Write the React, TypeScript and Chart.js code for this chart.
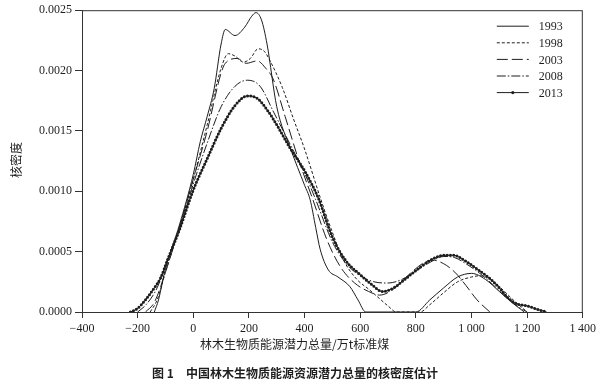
import React, { useEffect, useRef } from 'react';
import { Chart, registerables } from 'chart.js';

Chart.register(...registerables);

const years = ['1993', '1998', '2003', '2008', '2013'];

const x1993 = [-140, -125, -100, -50, 0, 25, 50, 75, 100, 115, 150, 185, 210, 225, 245, 265, 300, 350, 400, 420, 440, 456, 485, 520, 563, 592, 620, 700, 800, 850, 900, 950, 1000, 1050, 1100, 1150, 1190];
const y1993 = [0, 0.0001, 0.00036, 0.00072, 0.00114, 0.00141, 0.00162, 0.00185, 0.00222, 0.00234, 0.00229, 0.00236, 0.00245, 0.00248, 0.00242, 0.00222, 0.0017, 0.00135, 0.00105, 0.00093, 0.0007, 0.00052, 0.00035, 0.00029, 0.00021, 0.0001, 0, 0, 0, 0.0001, 0.0002, 0.00029, 0.00032, 0.00027, 0.00017, 0.00007, 0];

const x1998 = [-155, -130, -100, -50, 0, 50, 100, 126, 150, 180, 205, 233, 255, 276, 320, 360, 400, 456, 492, 540, 588, 630, 660, 700, 730, 815, 850, 900, 950, 1000, 1030, 1060, 1100, 1150, 1200];
const y1998 = [0, 0.0001, 0.00033, 0.0007, 0.0011, 0.00155, 0.00202, 0.00214, 0.00212, 0.00207, 0.0021, 0.00218, 0.00216, 0.00208, 0.00186, 0.0016, 0.00135, 0.00095, 0.00071, 0.00043, 0.00027, 0.00019, 0.00013, 0.00005, 0, 0, 0.00006, 0.00016, 0.00025, 0.00029, 0.0003, 0.00028, 0.00021, 0.0001, 0];

const x2003 = [-172, -140, -100, -50, 0, 50, 100, 115, 158, 190, 230, 260, 287, 330, 380, 430, 480, 530, 580, 630, 670, 720, 780, 830, 860, 900, 940, 980, 1020, 1066];
const y2003 = [0, 0.00008, 0.00033, 0.0007, 0.0011, 0.0015, 0.00198, 0.00206, 0.0021, 0.00206, 0.00208, 0.00202, 0.00193, 0.00162, 0.00125, 0.00093, 0.0006, 0.00037, 0.00024, 0.00017, 0.00014, 0.00019, 0.00032, 0.00041, 0.00043, 0.0004, 0.00033, 0.00022, 0.0001, 0];

const x2008 = [-200, -170, -130, -93, -50, 0, 50, 100, 150, 194, 240, 290, 350, 400, 440, 500, 550, 600, 650, 700, 750, 800, 850, 900, 940, 980, 1030, 1080, 1130, 1170, 1200];
const y2008 = [0, 0.00006, 0.0002, 0.00043, 0.00068, 0.00106, 0.0014, 0.0017, 0.00187, 0.00192, 0.00187, 0.00165, 0.00138, 0.00115, 0.00093, 0.00058, 0.0004, 0.0003, 0.00025, 0.00024, 0.00027, 0.00034, 0.00041, 0.00046, 0.00045, 0.0004, 0.00032, 0.00022, 0.00011, 0.00004, 0];

const x2013 = [-226, -200, -172, -140, -118, -93, -50, 0, 50, 100, 150, 194, 230, 270, 300, 350, 400, 450, 500, 550, 600, 640, 680, 720, 760, 815, 860, 900, 935, 980, 1030, 1070, 1100, 1130, 1160, 1200, 1240, 1270];
const y2013 = [0, 0.00003, 0.0001, 0.0002, 0.00028, 0.00043, 0.00068, 0.00101, 0.00127, 0.00152, 0.00171, 0.00179, 0.00177, 0.00166, 0.00155, 0.00135, 0.00117, 0.00094, 0.00062, 0.00042, 0.00031, 0.00023, 0.00017, 0.0002, 0.00027, 0.00037, 0.00044, 0.00047, 0.00047, 0.00042, 0.00034, 0.00027, 0.0002, 0.00012, 0.00007, 0.00005, 0.00002, 0];

const xTicks = [-400, -200, 0, 200, 400, 600, 800, 1000, 1200, 1400];
const xTickLabels = ['\u2212400', '\u2212200', '0', '200', '400', '600', '800', '1\u2009000', '1\u2009200', '1\u2009400'];
const yTicks = [0, 0.0005, 0.001, 0.0015, 0.002, 0.0025];
const yTickLabels = ['0.0000', '0.0005', '0.0010', '0.0015', '0.0020', '0.0025'];

const xTitle = '林木生物质能源潜力总量/万t标准煤';
const yTitle = '核密度';
const captionNo = '图 1';
const captionText = '中国林木生物质能源资源潜力总量的核密度估计';

const INK = '#1e1e1e';
const SERIF = '"Liberation Serif", "DejaVu Serif", serif';
const CJK = '"Noto Sans CJK SC", "Noto Sans", sans-serif';

const dashes: number[][] = [[], [3, 2], [11, 4], [9, 2, 1.5, 2], []];

const pts = (xs: number[], ys: number[]) => xs.map((x, i) => ({ x, y: ys[i] }));

const overlayPlugin = {
  id: 'overlay',
  afterDraw(chart: any) {
    const { ctx, chartArea } = chart;
    const { left, right, top, bottom } = chartArea;
    ctx.save();
    // frame
    ctx.strokeStyle = '#333';
    ctx.lineWidth = 1;
    ctx.setLineDash([]);
    ctx.strokeRect(left + 0.5, top + 0.5, right - left - 1, bottom - top);
    // legend
    ctx.font = `12px ${SERIF}`;
    ctx.fillStyle = INK;
    ctx.textBaseline = 'middle';
    ctx.textAlign = 'left';
    years.forEach((yr, i) => {
      const yy = top + 16 + i * 16.6;
      const x0 = right - 86;
      const x1 = right - 54;
      ctx.beginPath();
      ctx.setLineDash(dashes[i]);
      ctx.lineWidth = 1;
      ctx.strokeStyle = INK;
      ctx.moveTo(x0, yy);
      ctx.lineTo(x1, yy);
      ctx.stroke();
      ctx.setLineDash([]);
      if (i === 4) {
        ctx.beginPath();
        ctx.arc((x0 + x1) / 2, yy, 1.6, 0, Math.PI * 2);
        ctx.fill();
      }
      ctx.fillText(yr, right - 44, yy + 1);
    });
    // y title
    ctx.save();
    ctx.translate(16, 160);
    ctx.rotate(-Math.PI / 2);
    ctx.font = `12px ${CJK}`;
    ctx.textAlign = 'center';
    ctx.textBaseline = 'middle';
    ctx.fillText(yTitle, 0, 0);
    ctx.restore();
    // x title
    ctx.font = `12px ${CJK}`;
    ctx.textAlign = 'left';
    ctx.textBaseline = 'middle';
    ctx.fillText(xTitle, 200, bottom + 32);
    // caption
    ctx.font = `bold 12px ${CJK}`;
    ctx.fillText(captionNo, 152, bottom + 61);
    ctx.fillText(captionText, 186, bottom + 61);
    ctx.restore();
  },
};

export default function App() {
  const ref = useRef<HTMLCanvasElement | null>(null);

  useEffect(() => {
    if (!ref.current) return;
    const common = {
      borderColor: INK,
      backgroundColor: INK,
      borderWidth: 1,
      pointRadius: 0,
      fill: false,
      cubicInterpolationMode: 'monotone' as const,
    };
    const chart = new Chart(ref.current, {
      type: 'line',
      data: {
        datasets: [
          { ...common, label: years[0], data: pts(x1993, y1993), borderDash: dashes[0] },
          { ...common, label: years[1], data: pts(x1998, y1998), borderDash: dashes[1] },
          { ...common, label: years[2], data: pts(x2003, y2003), borderDash: dashes[2] },
          { ...common, label: years[3], data: pts(x2008, y2008), borderDash: dashes[3] },
          { ...common, label: years[4], data: pts(x2013, y2013), borderDash: dashes[4] },
          {
            ...common,
            label: years[4] + ' markers',
            data: pts(x2013, y2013),
            borderDash: [0, 3.3],
            borderCapStyle: 'round',
            borderWidth: 3,
          },
        ],
      },
      options: {
        responsive: false,
        animation: false,
        devicePixelRatio: 1,
        parsing: true,
        layout: { padding: { top: 10, right: 16, left: 0, bottom: 0 } },
        plugins: {
          legend: { display: false },
          tooltip: { enabled: false },
          title: { display: false },
        },
        scales: {
          x: {
            type: 'linear',
            min: -400,
            max: 1400,
            afterBuildTicks: (s: any) => {
              s.ticks = xTicks.map((v) => ({ value: v }));
            },
            afterFit: (s: any) => {
              s.height = 69;
            },
            ticks: {
              autoSkip: false,
              maxRotation: 0,
              padding: 4,
              color: INK,
              font: { family: SERIF, size: 12 },
              callback: (v: any) => {
                const i = xTicks.indexOf(Number(v));
                return i >= 0 ? xTickLabels[i] : '';
              },
            },
            grid: { drawOnChartArea: false, drawTicks: true, tickLength: 6, color: '#333' },
            border: { display: true, color: '#333' },
          },
          y: {
            type: 'linear',
            min: 0,
            max: 0.0025,
            afterBuildTicks: (s: any) => {
              s.ticks = yTicks.map((v) => ({ value: v }));
            },
            afterFit: (s: any) => {
              s.width = 82;
            },
            ticks: {
              autoSkip: false,
              padding: 3,
              color: INK,
              font: { family: SERIF, size: 12 },
              callback: (v: any) => {
                const i = yTicks.findIndex((t) => Math.abs(t - Number(v)) < 1e-9);
                return i >= 0 ? yTickLabels[i] : '';
              },
            },
            grid: { drawOnChartArea: false, drawTicks: true, tickLength: 7, color: '#333' },
            border: { display: true, color: '#333' },
          },
        },
      },
      plugins: [overlayPlugin],
    });
    return () => chart.destroy();
  }, []);

  return (
    <div style={{ position: 'absolute', left: 0, top: 0, width: 600, height: 381, background: '#fff' }}>
      <canvas ref={ref} width={600} height={381} style={{ width: 600, height: 381, display: 'block' }} />
    </div>
  );
}
